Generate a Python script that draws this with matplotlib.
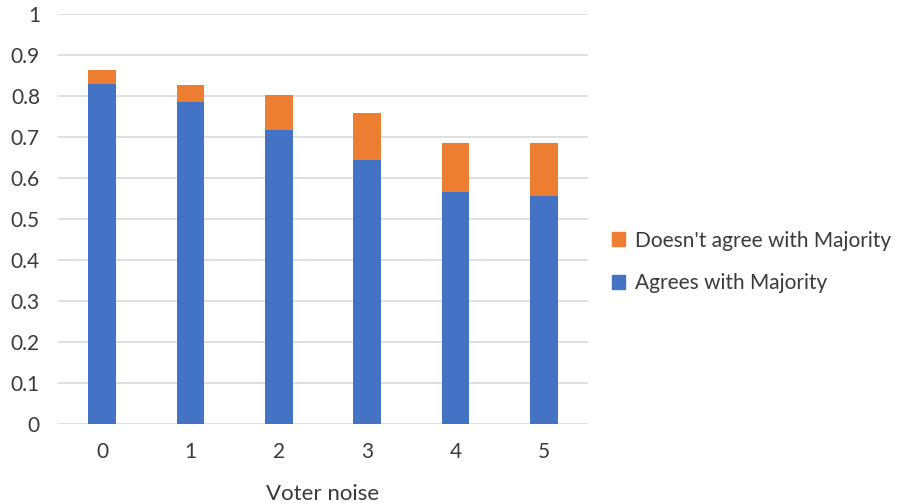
import matplotlib
matplotlib.use("Agg")
import matplotlib.pyplot as plt
from matplotlib.patches import Patch

plt.rcParams['font.family'] = ['Lato', 'DejaVu Sans']

noise_levels = ["0", "1", "2", "3", "4", "5"]
agrees = [0.830, 0.785, 0.718, 0.644, 0.567, 0.556]
disagrees = [0.034, 0.042, 0.084, 0.115, 0.119, 0.130]

blue = "#4472C4"
orange = "#ED7D31"
text_color = "#3a3a3a"

fig = plt.figure(figsize=(8.99, 5.03), dpi=100)
ax = fig.add_axes([58 / 899, 79 / 503, 530 / 899, 410 / 503])

x = list(range(len(noise_levels)))
ax.bar(x, agrees, width=0.31, color=blue, zorder=3)
ax.bar(x, disagrees, width=0.31, bottom=agrees, color=orange, zorder=3)

ax.set_xlim(-0.5, 5.5)
ax.set_ylim(0, 1)
ax.set_yticks([i / 10 for i in range(11)])
ax.set_yticklabels(["0", "0.1", "0.2", "0.3", "0.4", "0.5", "0.6", "0.7", "0.8", "0.9", "1"])
ax.set_xticks(x)
ax.set_xticklabels(noise_levels)
ax.tick_params(axis='both', length=0, labelsize=15, colors=text_color)
ax.tick_params(axis='y', pad=13)
ax.tick_params(axis='x', pad=13)
ax.grid(axis='y', color="#d9d9d9", linewidth=1.2, zorder=0)
for s in ax.spines.values():
    s.set_visible(False)

ax.set_xlabel("Voter noise", fontsize=16, color=text_color, labelpad=16)

handles = [Patch(color=orange, label="Doesn't agree with Majority"),
           Patch(color=blue, label="Agrees with Majority")]
fig.legend(handles=handles, loc="center left", bbox_to_anchor=(593 / 899, 1 - 262 / 503),
           frameon=False, fontsize=15, handlelength=0.65, handleheight=0.65,
           handletextpad=0.45, labelspacing=1.1, labelcolor=text_color)

fig.savefig("out.png", dpi=100)
